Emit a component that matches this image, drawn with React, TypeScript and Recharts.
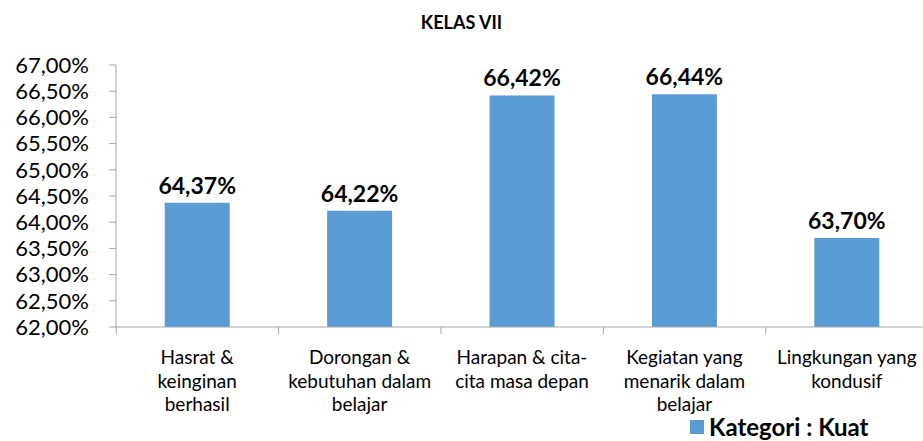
import React from 'react';
import { BarChart, Bar, XAxis, YAxis, LabelList } from 'recharts';

const categories = [
    'Hasrat &\nkeinginan\nberhasil',
    'Dorongan &\nkebutuhan dalam\nbelajar',
    'Harapan & cita-\ncita masa depan',
    'Kegiatan yang\nmenarik dalam\nbelajar',
    'Lingkungan yang\nkondusif',
];
const values = [64.37, 64.22, 66.42, 66.44, 63.7];
const yTicks = [62, 62.5, 63, 63.5, 64, 64.5, 65, 65.5, 66, 66.5, 67];
const seriesName = 'Kategori : Kuat';
const title = 'KELAS VII';

const data = categories.map((c, i) => ({ name: c, value: values[i] }));

const FONT = 'Lato, "Open Sans", sans-serif';
const BAR = '#5B9BD5';
const AXIS = '#A6A6A6';

const fmt = (v: number) => v.toFixed(2).replace('.', ',') + '%';

const CategoryTick = (props: any) => {
    const { x, y, payload } = props;
    const lines: string[] = String(payload.value).split('\n');
    return (
        <g>
            <line x1={x - 81} y1={y - 8} x2={x - 81} y2={y - 1} stroke={AXIS} />
            <text x={x} y={y} textAnchor="middle" fontFamily={FONT} fontSize={19} fill="#000">
                {lines.map((l, i) => (
                    <tspan key={i} x={x} dy={i === 0 ? 29 : 23.5}>{l}</tspan>
                ))}
            </text>
        </g>
    );
};

export default function App() {
    return (
        <div style={{ position: 'absolute', left: 0, top: 0, width: 923, height: 441, background: '#fff', overflow: 'hidden' }}>
            <div style={{ position: 'absolute', left: 0, top: 11, width: 923, textAlign: 'center', fontFamily: FONT, fontWeight: 700, fontSize: 18 }}>
                {title}
            </div>
            <BarChart
                width={923}
                height={441}
                data={data}
                margin={{ top: 65, right: -5, left: 0, bottom: 0 }}
                barCategoryGap="30%"
            >
                <XAxis
                    dataKey="name"
                    interval={0}
                    stroke={AXIS}
                    tickLine={false}
                    tick={<CategoryTick />}
                    height={114}
                />
                <YAxis
                    domain={[62, 67]}
                    ticks={yTicks}
                    interval={0}
                    width={116}
                    stroke={AXIS}
                    tickSize={7}
                    tickMargin={20}
                    tickFormatter={fmt}
                    tick={{ fill: '#000', fontFamily: FONT, fontSize: 22 }}
                />
                <Bar dataKey="value" name={seriesName} fill={BAR} isAnimationActive={false}>
                    <LabelList
                        dataKey="value"
                        position="top"
                        offset={9}
                        formatter={(v: any) => fmt(Number(v))}
                        style={{ fill: '#000', fontFamily: FONT, fontWeight: 700, fontSize: 23 }}
                    />
                </Bar>
            </BarChart>
            <div style={{ position: 'absolute', left: 690, top: 412, display: 'flex', alignItems: 'center', fontFamily: FONT, fontWeight: 700, fontSize: 24, color: '#000' }}>
                <span style={{ width: 14, height: 14, background: BAR, marginRight: 5, display: 'inline-block' }} />
                {seriesName}
            </div>
        </div>
    );
}
